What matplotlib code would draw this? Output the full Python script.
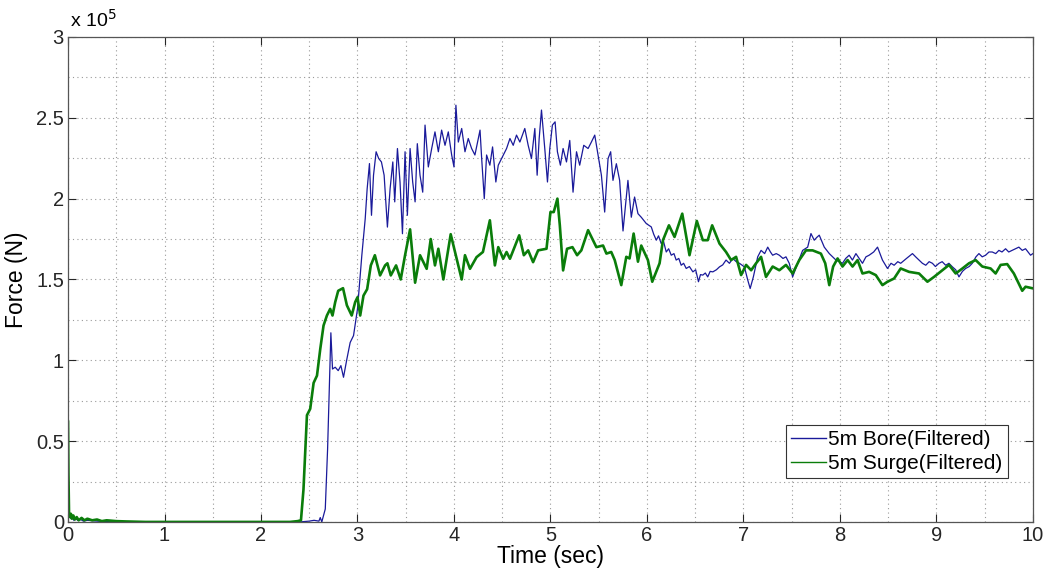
import matplotlib
matplotlib.use('Agg')
import matplotlib.pyplot as plt
from matplotlib.ticker import MultipleLocator

# force values in units of 1e5 N
bore_t = [0.0, 0.005, 0.012, 0.02, 0.03, 0.045, 0.06, 0.08, 0.1, 0.13, 0.16, 0.2, 0.3, 0.5, 1.0,
          1.5, 2.0, 2.4, 2.5, 2.55, 2.6, 2.614, 2.63, 2.666, 2.69, 2.71, 2.724, 2.741, 2.769,
          2.8, 2.828, 2.855, 2.89, 2.924, 2.959, 3.0, 3.045, 3.08, 3.1, 3.124, 3.145, 3.166,
          3.193, 3.22, 3.248, 3.276, 3.31, 3.338, 3.366, 3.386, 3.414, 3.441, 3.466, 3.493,
          3.517, 3.545, 3.572, 3.597, 3.62, 3.648, 3.676, 3.7, 3.734, 3.769, 3.803, 3.838,
          3.872, 3.907, 3.941, 3.976, 4.0, 4.02, 4.045, 4.08, 4.114, 4.148, 4.183, 4.217,
          4.27, 4.286, 4.314, 4.338, 4.372, 4.4, 4.434, 4.459, 4.493, 4.545, 4.58, 4.614,
          4.648, 4.683, 4.734, 4.769, 4.803, 4.838, 4.862, 4.883, 4.907, 4.941, 4.969, 4.993,
          5.02, 5.048, 5.072, 5.103, 5.131, 5.166, 5.2, 5.234, 5.27, 5.303, 5.345, 5.39,
          5.424, 5.459, 5.493, 5.528, 5.562, 5.597, 5.624, 5.648, 5.683, 5.717, 5.752, 5.803,
          5.838, 5.872, 5.907, 5.941, 5.993, 6.045, 6.07, 6.097, 6.12, 6.148, 6.17, 6.2,
          6.225, 6.252, 6.28, 6.303, 6.33, 6.355, 6.38, 6.407, 6.44, 6.476, 6.505, 6.534,
          6.555, 6.579, 6.605, 6.63, 6.655, 6.683, 6.72, 6.752, 6.785, 6.82, 6.855, 6.89,
          6.925, 6.959, 7.01, 7.045, 7.07, 7.103, 7.148, 7.183, 7.22, 7.252, 7.28, 7.303,
          7.34, 7.372, 7.41, 7.441, 7.475, 7.51, 7.562, 7.614, 7.666, 7.7, 7.734, 7.76,
          7.786, 7.838, 7.89, 7.925, 7.959, 8.027, 8.06, 8.096, 8.13, 8.166, 8.2, 8.234,
          8.27, 8.303, 8.35, 8.39, 8.441, 8.493, 8.53, 8.562, 8.6, 8.63, 8.69, 8.752, 8.785,
          8.82, 8.855, 8.89, 8.925, 8.959, 8.99, 9.027, 9.06, 9.096, 9.13, 9.166, 9.2, 9.234,
          9.27, 9.303, 9.34, 9.372, 9.41, 9.441, 9.475, 9.51, 9.545, 9.579, 9.615, 9.648,
          9.68, 9.717, 9.75, 9.786, 9.82, 9.855, 9.89, 9.924, 9.95, 9.976, 10.0]
bore_f = [0.12, 0.08, 0.03, 0.05, 0.02, 0.03, 0.01, 0.02, 0.01, 0.015, 0.005, 0.01, 0.005, 0.0, 0.0,
          0.0, 0.0, 0.0, 0.005, 0.01, 0.005, 0.027, 0.0, 0.08, 0.45, 0.86, 1.17, 0.946, 0.957,
          0.936, 0.967, 0.895, 1.008, 1.11, 1.153, 1.318, 1.65, 1.876, 2.06, 2.217, 1.897, 2.145,
          2.29, 2.248, 2.227, 2.145, 1.824, 2.062, 2.227, 1.98, 2.31, 2.10, 1.783, 2.29,
          1.897, 2.31, 2.103, 1.98, 2.34, 2.145, 2.04, 2.455, 2.196, 2.31, 2.413, 2.29,
          2.424, 2.33, 2.413, 2.27, 2.196, 2.578, 2.35, 2.434, 2.29, 2.372, 2.31, 2.27,
          2.424, 2.258, 2.0, 2.27, 2.207, 2.32, 2.103, 2.207, 2.248, 2.31, 2.372, 2.33,
          2.393, 2.35, 2.434, 2.33, 2.248, 2.434, 2.145, 2.372, 2.548, 2.31, 2.103, 2.31,
          2.455, 2.475, 2.29, 2.207, 2.31, 2.227, 2.36, 2.04, 2.29, 2.207, 2.33, 2.31,
          2.35, 2.393, 2.27, 2.145, 1.917, 2.248, 2.29, 2.113, 2.216, 2.113, 1.80, 2.113,
          1.885, 2.01, 1.907, 1.885, 1.846, 1.825, 1.78, 1.743, 1.77, 1.722, 1.74, 1.67,
          1.69, 1.65, 1.66, 1.62, 1.63, 1.588, 1.6, 1.568, 1.58, 1.547, 1.56, 1.486,
          1.53, 1.527, 1.54, 1.516, 1.55, 1.547, 1.56, 1.578, 1.59, 1.62, 1.6, 1.63,
          1.61, 1.60, 1.578, 1.496, 1.444, 1.516, 1.64, 1.68, 1.66, 1.70, 1.67, 1.65,
          1.66, 1.65, 1.63, 1.64, 1.6, 1.516, 1.60, 1.68, 1.70, 1.784, 1.743, 1.76,
          1.774, 1.70, 1.66, 1.64, 1.62, 1.60, 1.63, 1.65, 1.62, 1.66, 1.63, 1.60,
          1.64, 1.65, 1.67, 1.70, 1.62, 1.568, 1.6, 1.588, 1.61, 1.60, 1.63, 1.66, 1.64,
          1.62, 1.6, 1.588, 1.61, 1.60, 1.58, 1.60, 1.61, 1.588, 1.6, 1.578, 1.56, 1.516,
          1.55, 1.568, 1.58, 1.60, 1.64, 1.66, 1.64, 1.65, 1.67, 1.67, 1.66, 1.68,
          1.67, 1.69, 1.67, 1.68, 1.69, 1.70, 1.68, 1.69, 1.67, 1.65, 1.66]

surge_t = [0.0, 0.004, 0.01, 0.02, 0.03, 0.04, 0.055, 0.07, 0.09, 0.11, 0.14, 0.17, 0.2, 0.25,
           0.3, 0.35, 0.4, 0.5, 0.6, 0.8, 1.0, 1.5, 2.0, 2.3, 2.38, 2.414, 2.44, 2.459, 2.476,
           2.51, 2.545, 2.58, 2.614, 2.648, 2.683, 2.717, 2.741, 2.769, 2.80, 2.85, 2.89, 2.94,
           2.976, 3.0, 3.028, 3.062, 3.10, 3.138, 3.18, 3.234, 3.286, 3.31, 3.345, 3.40, 3.448,
           3.493, 3.545, 3.597, 3.648, 3.717, 3.759, 3.803, 3.838, 3.89, 3.966, 4.028, 4.08,
           4.114, 4.166, 4.234, 4.30, 4.372, 4.424, 4.459, 4.51, 4.545, 4.58, 4.676, 4.724,
           4.769, 4.82, 4.872, 4.959, 5.0, 5.034, 5.072, 5.097, 5.131, 5.172, 5.228, 5.276,
           5.32, 5.39, 5.476, 5.545, 5.58, 5.63, 5.666, 5.734, 5.786, 5.82, 5.862, 5.907,
           5.941, 6.01, 6.055, 6.131, 6.166, 6.228, 6.286, 6.366, 6.441, 6.517, 6.579, 6.63,
           6.676, 6.752, 6.82, 6.872, 6.924, 6.976, 7.028, 7.08, 7.131, 7.183, 7.234, 7.303,
           7.372, 7.441, 7.51, 7.579, 7.648, 7.717, 7.803, 7.848, 7.89, 7.93, 7.976, 8.027,
           8.08, 8.131, 8.183, 8.234, 8.303, 8.372, 8.441, 8.493, 8.562, 8.63, 8.717, 8.82,
           8.907, 8.976, 9.062, 9.131, 9.2, 9.27, 9.338, 9.407, 9.476, 9.562, 9.614, 9.666,
           9.734, 9.803, 9.89, 9.924, 10.0]
surge_f = [0.62, 0.3, 0.06, 0.03, 0.05, 0.02, 0.04, 0.015, 0.03, 0.01, 0.025, 0.01, 0.02, 0.01,
           0.015, 0.005, 0.01, 0.005, 0.003, 0.0, 0.0, 0.0, 0.0, 0.0, 0.005, 0.01, 0.2, 0.45, 0.66,
           0.70, 0.86, 0.905, 1.07, 1.215, 1.277, 1.318, 1.277, 1.36, 1.43, 1.446, 1.34, 1.277,
           1.36, 1.39, 1.277, 1.40, 1.44, 1.587, 1.65, 1.525, 1.587, 1.60, 1.525, 1.587, 1.50,
           1.65, 1.81, 1.48, 1.65, 1.566, 1.75, 1.587, 1.69, 1.50, 1.78, 1.628, 1.50,
           1.65, 1.566, 1.638, 1.67, 1.866, 1.587, 1.70, 1.628, 1.67, 1.628, 1.773, 1.65,
           1.68, 1.607, 1.68, 1.69, 1.917, 1.917, 2.0, 1.835, 1.556, 1.69, 1.70, 1.65,
           1.68, 1.805, 1.70, 1.71, 1.66, 1.67, 1.62, 1.465, 1.64, 1.63, 1.784, 1.61,
           1.71, 1.62, 1.486, 1.60, 1.743, 1.835, 1.763, 1.907, 1.65, 1.862, 1.743, 1.743,
           1.835, 1.722, 1.67, 1.62, 1.64, 1.527, 1.59, 1.557, 1.60, 1.64, 1.516, 1.58,
           1.557, 1.59, 1.537, 1.62, 1.68, 1.68, 1.66, 1.60, 1.465, 1.58, 1.63, 1.58,
           1.62, 1.58, 1.62, 1.537, 1.547, 1.527, 1.465, 1.486, 1.506, 1.568, 1.547, 1.537,
           1.486, 1.516, 1.557, 1.59, 1.537, 1.568, 1.60, 1.62, 1.58, 1.568, 1.537, 1.59,
           1.595, 1.537, 1.43, 1.455, 1.445]

x_ticks = [0, 1, 2, 3, 4, 5, 6, 7, 8, 9, 10]
y_ticks = [0, 0.5, 1, 1.5, 2, 2.5, 3]
y_tick_labels = ['0', '0.5', '1', '1.5', '2', '2.5', '3']

plt.rcParams['font.family'] = ['Liberation Sans', 'DejaVu Sans']

fig = plt.figure(figsize=(10.47, 5.78), dpi=100)
ax = fig.add_axes([0.065, 0.097, 0.9215, 0.839])

ax.plot(bore_t, bore_f, color='#1a1a9a', lw=0.9, label='5m Bore(Filtered)')
ax.plot(surge_t, surge_f, color='#0a7d0a', lw=1.9, solid_joinstyle='round',
        label='5m Surge(Filtered)')

ax.set_xlim(0, 10)
ax.set_ylim(0, 3)
ax.set_xticks(x_ticks)
ax.set_yticks(y_ticks)
ax.set_yticklabels(y_tick_labels)
ax.xaxis.set_minor_locator(MultipleLocator(0.5))
ax.yaxis.set_minor_locator(MultipleLocator(0.25))
ax.grid(which='both', color='#9a9a9a', ls=(0, (1, 3)), lw=0.8)
ax.tick_params(which='major', direction='in', length=6, width=0.8, top=True, right=True,
               labelsize=14.5, colors='#262626', pad=3)
ax.tick_params(which='minor', length=0, top=True, right=True)
for s in ax.spines.values():
    s.set_color('#555555')
    s.set_linewidth(0.9)

ax.set_xlabel('Time (sec)', fontsize=16.5, labelpad=0)
ax.set_ylabel('Force (N)', fontsize=16.5, labelpad=6)
ax.text(0.002, 1.012, 'x 10$^5$', transform=ax.transAxes, fontsize=14, ha='left', va='bottom')

leg = ax.legend(loc='lower right', bbox_to_anchor=(0.974, 0.09), fontsize=15, fancybox=False,
                framealpha=1, edgecolor='#333333', handlelength=1.7, handletextpad=0.1,
                borderpad=0.25, labelspacing=0.25, borderaxespad=0)
leg.get_frame().set_linewidth(0.8)
for h in leg.get_lines():
    h.set_linewidth(1.0)

fig.savefig('out.png', dpi=100)
